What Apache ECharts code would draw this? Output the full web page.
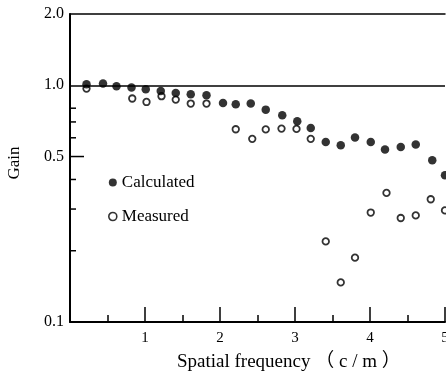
<!DOCTYPE html>
<html>
<head>
<meta charset="utf-8">
<script src="https://cdn.jsdelivr.net/npm/echarts@6/dist/echarts.min.js"></script>
<style>
  html, body { margin: 0; padding: 0; background: #fff; }
  #chart { width: 446px; height: 380px; }
</style>
</head>
<body>
<div id="chart"></div>
<script>
// spatial frequency (c/m) and gain
const calcFreq = [0.22, 0.44, 0.62, 0.82, 1.01, 1.21, 1.41, 1.61, 1.82, 2.04, 2.21, 2.41, 2.61,
                  2.83, 3.03, 3.21, 3.41, 3.61, 3.80, 4.01, 4.20, 4.41, 4.61, 4.83, 5.00];
const calcGain = [1.01, 1.017, 0.99, 0.978, 0.962, 0.946, 0.928, 0.916, 0.907, 0.842, 0.831, 0.837, 0.789,
                  0.747, 0.705, 0.660, 0.576, 0.558, 0.601, 0.576, 0.535, 0.549, 0.562, 0.482, 0.417];

const measFreq = [0.22, 0.83, 1.02, 1.22, 1.41, 1.61, 1.82, 2.21, 2.43, 2.61, 2.82, 3.02, 3.21,
                  3.41, 3.61, 3.80, 4.01, 4.22, 4.41, 4.61, 4.81, 5.00];
const measGain = [0.968, 0.879, 0.850, 0.899, 0.870, 0.837, 0.837, 0.652, 0.594, 0.651, 0.656, 0.654, 0.594,
                  0.219, 0.147, 0.187, 0.290, 0.351, 0.275, 0.282, 0.330, 0.296];

const yTickValues = [0.2, 0.3, 0.4, 0.5, 0.6, 0.7, 0.8];
const yLabelValues = [0.1, 0.5, 1.0, 2.0];
const xLabelValues = [1, 2, 3, 4, 5];

const serif = "'Liberation Serif', 'Noto Sans CJK JP', serif";

const chart = echarts.init(document.getElementById('chart'));

chart.setOption({
    animation: false,
    backgroundColor: '#fff',
    grid: { left: 70, right: 1, top: 14, bottom: 58, containLabel: false, outerBoundsMode: 'none' },
    legend: {
        orient: 'vertical',
        left: 103,
        top: 169,
        itemWidth: 8,
        itemHeight: 8,
        itemGap: 17,
        textStyle: { fontFamily: serif, fontSize: 17, color: '#000' },
        data: [
            { name: 'Calculated', icon: 'circle', itemStyle: { color: '#000' } },
            { name: 'Measured', icon: 'circle',
              itemStyle: { color: '#fff', borderColor: '#000', borderWidth: 1.6 } }
        ]
    },
    xAxis: [
        {
            type: 'value',
            min: 0,
            max: 5,
            interval: 1,
            position: 'bottom',
            axisLine: { lineStyle: { color: '#000', width: 2 } },
            axisTick: { inside: true, length: 15, lineStyle: { color: '#000', width: 1.5 } },
            minorTick: { show: true, splitNumber: 2, length: 7, lineStyle: { color: '#000', width: 1.5 } },
            splitLine: { show: false },
            axisLabel: {
                margin: 9,
                fontFamily: serif,
                fontSize: 15,
                color: '#000',
                formatter: v => (xLabelValues.includes(v) ? String(v) : '')
            }
        },
        {
            type: 'value',
            min: 0,
            max: 5,
            position: 'top',
            axisLine: { show: true, lineStyle: { color: '#000', width: 1.5 } },
            axisTick: { show: false },
            axisLabel: { show: false },
            splitLine: { show: false }
        }
    ],
    yAxis: {
        type: 'log',
        logBase: 10,
        min: 0.1,
        max: 2,
        name: 'Gain',
        nameLocation: 'middle',
        nameGap: 47,
        nameRotate: 90,
        nameTextStyle: { fontFamily: serif, fontSize: 17, color: '#000', padding: [0, 0, 0, 10] },
        axisLine: { show: true, lineStyle: { color: '#000', width: 2 } },
        axisTick: { show: false },
        axisLabel: { show: false },
        splitLine: { show: false }
    },
    series: [
        {
            name: 'Measured',
            type: 'scatter',
            symbol: 'circle',
            symbolSize: 6.5,
            itemStyle: { color: '#fff', borderColor: '#000', borderWidth: 1.8 },
            z: 3,
            data: measFreq.map((f, i) => [f, measGain[i]])
        },
        {
            name: 'Calculated',
            type: 'scatter',
            symbol: 'circle',
            symbolSize: 8.5,
            itemStyle: { color: '#000' },
            z: 4,
            data: calcFreq.map((f, i) => [f, calcGain[i]]),
            markLine: {
                silent: true,
                symbol: 'none',
                label: { show: false },
                lineStyle: { color: '#000', width: 1.5, type: 'solid' },
                data: [{ yAxis: 1 }]
            }
        },
        {
            // y ticks between decades
            name: 'yticks',
            type: 'custom',
            silent: true,
            z: 5,
            data: yTickValues.map(v => [0, v]),
            renderItem: (params, api) => {
                const v = api.value(1);
                const p = api.coord([0, v]);
                const len = v === 0.5 ? 14 : 6;
                return {
                    type: 'line',
                    shape: { x1: p[0], y1: p[1], x2: p[0] + len, y2: p[1] },
                    style: { stroke: '#000', lineWidth: 1.5 }
                };
            }
        },
        {
            name: 'ylabels',
            type: 'custom',
            silent: true,
            z: 5,
            data: yLabelValues.map(v => [0, v]),
            renderItem: (params, api) => {
                const v = api.value(1);
                const p = api.coord([0, v]);
                return {
                    type: 'text',
                    x: p[0] - 6,
                    y: p[1],
                    style: {
                        text: v.toFixed(1),
                        fontFamily: serif,
                        fontSize: 16,
                        fill: '#000',
                        align: 'right',
                        verticalAlign: 'middle'
                    }
                };
            }
        }
    ],
    graphic: [
        {
            type: 'text',
            left: 177,
            top: 353,
            style: {
                text: 'Spatial frequency （ c / m ）',
                font: '19px ' + serif,
                fill: '#000'
            }
        }
    ]
});
</script>
</body>
</html>
